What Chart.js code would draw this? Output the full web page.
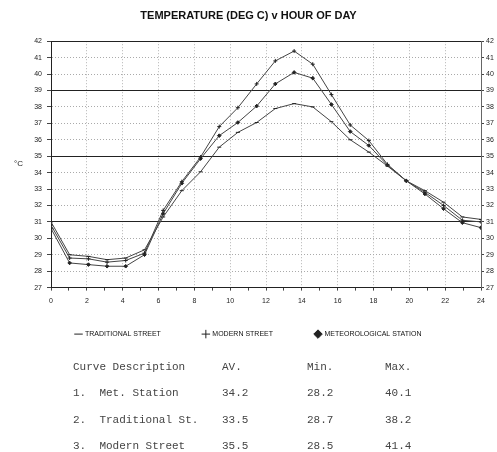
<!DOCTYPE html>
<html lang="en">
<head>
<meta charset="UTF-8">
<title>Temperature v hour of day</title>
<script src="https://cdn.jsdelivr.net/npm/chart.js"></script>
<style>
  body { margin: 0; background: #fff; }
  .wrap { position: relative; width: 497px; height: 452px; overflow: hidden; }
  #grafico { position: absolute; left: 0; top: 0; }
  .unit { position: absolute; left: 14px; top: 159px; font: 8px "Liberation Sans", Arial, sans-serif; color: #222; }
  .tabela { position: absolute; left: 0; top: 354px; width: 497px; font: 11px "Liberation Mono", "Courier New", monospace; color: #444; }
  .linha { position: relative; height: 26.3px; line-height: 26.3px; white-space: pre; }
  .linha span { position: absolute; top: 0; }
</style>
</head>
<body>
<div class="wrap">
  <canvas id="grafico" width="497" height="378"></canvas>
  <div class="unit">°C</div>
  <div class="tabela" id="tabela"></div>
</div>
<script>
// hour of each reading (24 readings spread over 0..24)
const horas = [0, 1.04, 2.09, 3.13, 4.17, 5.22, 6.26, 7.3, 8.35, 9.39, 10.43, 11.48,
               12.52, 13.57, 14.61, 15.65, 16.7, 17.74, 18.78, 19.83, 20.87, 21.91, 22.96, 24];

const tradicional = [31.0, 29.0, 28.9, 28.7, 28.8, 29.3, 31.3, 32.9, 34.05, 35.55, 36.45, 37.05,
                     37.9, 38.2, 38.0, 37.1, 36.0, 35.25, 34.4, 33.5, 32.9, 32.2, 31.3, 31.15];
const moderna = [30.8, 28.8, 28.75, 28.55, 28.65, 29.1, 31.7, 33.45, 34.95, 36.8, 37.95, 39.4,
                 40.8, 41.4, 40.6, 38.75, 36.9, 35.95, 34.5, 33.5, 32.8, 32.0, 31.1, 31.0];
const estacao = [30.6, 28.5, 28.4, 28.3, 28.3, 29.0, 31.5, 33.35, 34.85, 36.25, 37.05, 38.05,
                 39.4, 40.1, 39.75, 38.15, 36.5, 35.65, 34.45, 33.5, 32.7, 31.8, 30.95, 30.65];

const nomesSeries = ['TRADITIONAL STREET', 'MODERN STREET', 'METEOROLOGICAL STATION'];
const linhasFortes = [42, 39, 35, 31, 27];

// summary table under the chart
const cabecalho = ['Curve Description', 'AV.', 'Min.', 'Max.'];
const curvas = ['Met. Station', 'Traditional St.', 'Modern Street'];
const medias = ['34.2', '33.5', '35.5'];
const minimos = ['28.2', '28.7', '28.5'];
const maximos = ['40.1', '38.2', '41.4'];

function pontos(valores) {
  return valores.map((v, i) => ({ x: horas[i], y: v }));
}

function serie(nome, valores, estilo, raio) {
  return {
    label: nome,
    data: pontos(valores),
    borderColor: '#444',
    borderWidth: 1,
    backgroundColor: '#222',
    pointStyle: estilo,
    pointRadius: raio,
    pointBorderColor: '#222',
    pointBackgroundColor: '#222',
    pointBorderWidth: 1,
    tension: 0
  };
}

// the legend sits close under the x labels, pull it up next to the axis
const subirLegenda = {
  id: 'subirLegenda',
  afterLayout(chart) {
    const d = chart.legend.top - (chart.chartArea.bottom + 1);
    chart.legend.top -= d;
    chart.legend.bottom -= d;
  }
};

const fonteEixo = { family: '"Liberation Sans", Arial, sans-serif', size: 7 };

new Chart(document.getElementById('grafico'), {
  type: 'line',
  data: {
    datasets: [
      serie(nomesSeries[0], tradicional, 'line', 2),
      serie(nomesSeries[1], moderna, 'cross', 2),
      serie(nomesSeries[2], estacao, 'rectRot', 1.8)
    ]
  },
  plugins: [subirLegenda],
  options: {
    responsive: false,
    animation: false,
    layout: { padding: { left: 0, right: 0, top: 0, bottom: 8 } },
    plugins: {
      title: {
        display: true,
        text: 'TEMPERATURE (DEG C) v HOUR OF DAY',
        color: '#111',
        font: { family: '"Liberation Sans", Arial, sans-serif', size: 11, weight: 'bold' },
        padding: { top: 9, bottom: 19 }
      },
      legend: {
        position: 'bottom',
        labels: {
          usePointStyle: true,
          boxWidth: 6,
          boxHeight: 6,
          padding: 42,
          color: '#111',
          font: { family: '"Liberation Sans", Arial, sans-serif', size: 7 }
        }
      },
      tooltip: { enabled: false }
    },
    scales: {
      x: {
        type: 'linear',
        min: 0,
        max: 24,
        ticks: {
          stepSize: 1,
          autoSkip: false,
          maxRotation: 0,
          color: '#222',
          font: fonteEixo,
          padding: 6,
          callback: v => (v % 2 === 0 ? v : '')
        },
        grid: {
          color: c => (c.tick && c.tick.value % 2 === 0 ? '#b5b5b5' : 'rgba(0,0,0,0)'),
          tickColor: '#444',
          tickLength: 3,
          lineWidth: 1
        },
        border: {
          display: true,
          color: '#222',
          dash: c => (c.tick ? [1, 2] : [])
        }
      },
      y: {
        position: 'left',
        min: 27,
        max: 42,
        afterFit: s => { s.width = 51; },
        ticks: { stepSize: 1, color: '#222', font: fonteEixo, padding: 5 },
        grid: {
          color: c => (c.tick && linhasFortes.includes(c.tick.value) ? '#222' : '#aaa'),
          tickColor: '#444',
          tickLength: 4,
          lineWidth: 1
        },
        border: {
          display: true,
          color: '#222',
          dash: c => (c.tick && !linhasFortes.includes(c.tick.value) ? [1, 2] : [])
        }
      },
      y2: {
        position: 'right',
        min: 27,
        max: 42,
        afterFit: s => { s.width = 16; },
        ticks: { stepSize: 1, color: '#222', font: fonteEixo, padding: 2 },
        grid: { drawOnChartArea: false, tickColor: '#444', tickLength: 3 },
        border: { display: true, color: '#666' }
      }
    }
  }
});

// build the summary table
const tabela = document.getElementById('tabela');
const colunas = [73, 222, 307, 385];
function linha(celulas) {
  const div = document.createElement('div');
  div.className = 'linha';
  celulas.forEach((txt, i) => {
    const s = document.createElement('span');
    s.style.left = colunas[i] + 'px';
    s.textContent = txt;
    div.appendChild(s);
  });
  tabela.appendChild(div);
}
linha(cabecalho);
curvas.forEach((c, i) => {
  linha([(i + 1) + '.  ' + c, medias[i], minimos[i], maximos[i]]);
});
</script>
</body>
</html>
